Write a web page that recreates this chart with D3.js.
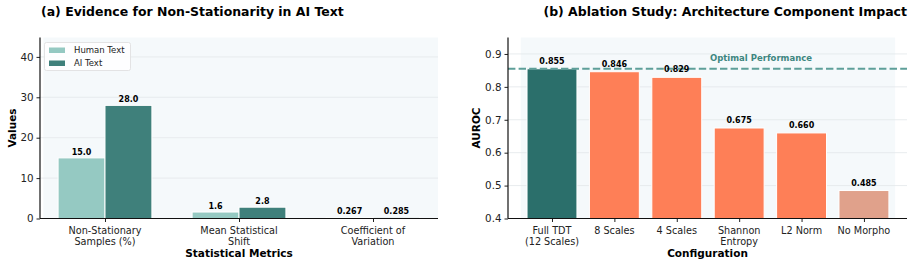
<!DOCTYPE html>
<html><head><meta charset="utf-8">
<script src="https://cdn.jsdelivr.net/npm/d3@7"></script>
<style>
body{margin:0;background:#fff;}
svg{display:block;font-family:"DejaVu Sans",sans-serif;}
</style></head>
<body><svg id="c" width="914" height="266"></svg>
<script>
// ---- data ----
const metrics = [["Non-Stationary","Samples (%)"],["Mean Statistical","Shift"],["Coefficient of","Variation"]];
const humanValues = [15.0, 1.6, 0.267];
const aiValues = [28.0, 2.8, 0.285];
const humanLabels = ["15.0","1.6","0.267"];
const aiLabels = ["28.0","2.8","0.285"];
const leftTicks = [0,10,20,30,40];

const configs = [["Full TDT","(12 Scales)"],["8 Scales"],["4 Scales"],["Shannon","Entropy"],["L2 Norm"],["No Morpho"]];
const auroc = [0.855, 0.846, 0.829, 0.675, 0.660, 0.485];
const aurocLabels = ["0.855","0.846","0.829","0.675","0.660","0.485"];
const rightTicks = [0.4,0.5,0.6,0.7,0.8,0.9];
const optimal = 0.855;

const svg = d3.select("#c");
const C = {human:"#95c9c2", ai:"#3f807b", full:"#2b6f6b", orange:"#fe7f57", morpho:"#e0a18b",
  bg:"#f5f9fb", grid:"#e3e7ea", dash:"#5e9f99", opt:"#3d8680"};

function fitTitle(t, target){
  const len = t.node().getComputedTextLength();
  const fs = parseFloat(t.attr("font-size"));
  if(len>0) t.attr("font-size", fs*target/len);
}

// ===== Left panel =====
(function(){
  const x0=40, x1=438, yb=218.5, yt=37.5;
  const x = d3.scaleLinear().domain([-0.485,2.485]).range([x0,x1]);
  const y = d3.scaleLinear().domain([0,44.8]).range([yb,yt]);
  const g = svg.append("g");
  g.append("rect").attr("x",x(-0.46)).attr("y",yt).attr("width",x1-x(-0.46)).attr("height",yb-yt).attr("fill",C.bg);
  g.selectAll(".grid").data(leftTicks.slice(1)).join("line")
    .attr("x1",x0).attr("x2",x1).attr("y1",d=>y(d)).attr("y2",d=>y(d))
    .attr("stroke",C.grid).attr("stroke-width",0.8);
  const w=0.35;
  g.selectAll(".h").data(humanValues).join("rect")
    .attr("x",(d,i)=>x(i-w))
    .attr("width",x(w)-x(0)).attr("y",d=>y(d)).attr("height",d=>y(0)-y(d))
    .attr("fill",C.human).attr("stroke","#fff").attr("stroke-width",1);
  g.selectAll(".a").data(aiValues).join("rect")
    .attr("x",(d,i)=>x(i))
    .attr("width",x(w)-x(0)).attr("y",d=>y(d)).attr("height",d=>y(0)-y(d))
    .attr("fill",C.ai).attr("stroke","#fff").attr("stroke-width",1);
  g.selectAll(".hl").data(humanValues).join("text")
    .attr("x",(d,i)=>x(i-w/2)).attr("y",d=>y(d)-3).attr("text-anchor","middle")
    .attr("font-size",8).attr("font-weight","bold").text((d,i)=>humanLabels[i]);
  g.selectAll(".al").data(aiValues).join("text")
    .attr("x",(d,i)=>x(i+w/2)).attr("y",d=>y(d)-3).attr("text-anchor","middle")
    .attr("font-size",8).attr("font-weight","bold").text((d,i)=>aiLabels[i]);
  const ya = g.append("g").attr("transform",`translate(${x0},0)`)
    .call(d3.axisLeft(y).tickValues(leftTicks).tickSize(3.5).tickPadding(3));
  ya.select(".domain").remove();
  ya.selectAll("text").attr("font-size",10.3).attr("font-family","DejaVu Sans").attr("fill","#222");
  ya.selectAll("line").attr("stroke","#222");
  const xa = g.append("g").attr("transform",`translate(0,${yb})`)
    .call(d3.axisBottom(x).tickValues(d3.range(metrics.length)).tickSize(3.5).tickFormat(""));
  xa.select(".domain").remove();
  xa.selectAll("line").attr("stroke","#222");
  metrics.forEach((m,i)=>{
    const t=g.append("text").attr("x",x(i)).attr("y",yb+15).attr("text-anchor","middle")
      .attr("font-size",9.7).attr("fill","#222");
    m.forEach((s,j)=>t.append("tspan").attr("x",x(i)).attr("dy",j?11:0).text(s));
  });
  g.append("line").attr("x1",x0).attr("x2",x0).attr("y1",yt).attr("y2",yb).attr("stroke","#111").attr("stroke-width",1.2);
  g.append("line").attr("x1",x0).attr("x2",x1).attr("y1",yb).attr("y2",yb).attr("stroke","#111").attr("stroke-width",1.2);
  g.append("text").attr("x",(x0+x1)/2).attr("y",257).attr("text-anchor","middle")
    .attr("font-size",10.5).attr("font-weight","bold").text("Statistical Metrics");
  g.append("text").attr("transform",`translate(16,${(yt+yb)/2}) rotate(-90)`).attr("text-anchor","middle")
    .attr("font-size",10.5).attr("font-weight","bold").text("Values");
  const tt = g.append("text").attr("x",41).attr("y",15.5).attr("font-size",12).attr("font-weight","bold")
    .text("(a) Evidence for Non-Stationarity in AI Text");
  fitTitle(tt, 303);
  const lg=g.append("g");
  lg.append("rect").attr("x",44.5).attr("y",42.5).attr("width",86).attr("height",28).attr("rx",2)
    .attr("fill","#fff").attr("fill-opacity",0.85).attr("stroke","#ddd").attr("stroke-width",0.8);
  [["Human Text",C.human],["AI Text",C.ai]].forEach((d,i)=>{
    lg.append("rect").attr("x",49).attr("y",47.5+i*13).attr("width",16).attr("height",5.5).attr("fill",d[1]);
    lg.append("text").attr("x",74).attr("y",53+i*13).attr("font-size",8.5).attr("fill","#222").text(d[0]);
  });
})();

// ===== Right panel =====
(function(){
  const x0=508, x1=907, yb=218.5, yt=37.5;
  const x = d3.scaleLinear().domain([-0.705,5.69]).range([x0,x1]);
  const y = d3.scaleLinear().domain([0.4,0.95]).range([yb,yt]);
  const g = svg.append("g");
  g.append("rect").attr("x",x(-0.5)).attr("y",yt).attr("width",x(5.5)-x(-0.5)).attr("height",yb-yt).attr("fill",C.bg);
  g.selectAll(".grid").data(rightTicks.slice(1)).join("line")
    .attr("x1",x0).attr("x2",x1).attr("y1",d=>y(d)).attr("y2",d=>y(d))
    .attr("stroke",C.grid).attr("stroke-width",0.8);
  const w=0.8;
  const col=(i)=> i===0?C.full:(i===auroc.length-1?C.morpho:C.orange);
  g.selectAll(".b").data(auroc).join("rect")
    .attr("x",(d,i)=>x(i-w/2)).attr("width",x(w)-x(0))
    .attr("y",d=>y(d)).attr("height",d=>y(0.4)-y(d))
    .attr("fill",(d,i)=>col(i)).attr("stroke","#fff").attr("stroke-width",1);
  g.append("line").attr("x1",x0).attr("x2",x1).attr("y1",y(optimal)).attr("y2",y(optimal))
    .attr("stroke",C.dash).attr("stroke-width",2).attr("stroke-dasharray","7.4,3.2");
  g.append("text").attr("x",761).attr("y",y(optimal)-8).attr("text-anchor","middle")
    .attr("font-size",8.5).attr("font-weight","bold").attr("fill",C.opt).text("Optimal Performance");
  g.selectAll(".bl").data(auroc).join("text")
    .attr("x",(d,i)=>x(i)).attr("y",d=>y(d)-5).attr("text-anchor","middle")
    .attr("font-size",8).attr("font-weight","bold").text((d,i)=>aurocLabels[i]);
  const ya = g.append("g").attr("transform",`translate(${x0},0)`)
    .call(d3.axisLeft(y).tickValues(rightTicks).tickFormat(d3.format(".1f")).tickSize(3.5).tickPadding(3));
  ya.select(".domain").remove();
  ya.selectAll("text").attr("font-size",10.3).attr("font-family","DejaVu Sans").attr("fill","#222");
  ya.selectAll("line").attr("stroke","#222");
  const xa = g.append("g").attr("transform",`translate(0,${yb})`)
    .call(d3.axisBottom(x).tickValues(d3.range(configs.length)).tickSize(3.5).tickFormat(""));
  xa.select(".domain").remove();
  xa.selectAll("line").attr("stroke","#222");
  configs.forEach((m,i)=>{
    const t=g.append("text").attr("x",x(i)).attr("y",yb+15).attr("text-anchor","middle")
      .attr("font-size",9.7).attr("fill","#222");
    m.forEach((s,j)=>t.append("tspan").attr("x",x(i)).attr("dy",j?11:0).text(s));
  });
  g.append("line").attr("x1",x0).attr("x2",x0).attr("y1",yt).attr("y2",yb).attr("stroke","#111").attr("stroke-width",1.2);
  g.append("line").attr("x1",x0).attr("x2",x1).attr("y1",yb).attr("y2",yb).attr("stroke","#111").attr("stroke-width",1.2);
  g.append("text").attr("x",(x0+x1)/2).attr("y",257).attr("text-anchor","middle")
    .attr("font-size",10.5).attr("font-weight","bold").text("Configuration");
  g.append("text").attr("transform",`translate(480,${(yt+yb)/2}) rotate(-90)`).attr("text-anchor","middle")
    .attr("font-size",10.5).attr("font-weight","bold").text("AUROC");
  const tt = g.append("text").attr("x",907).attr("y",15.5).attr("text-anchor","end").attr("font-size",12).attr("font-weight","bold")
    .text("(b) Ablation Study: Architecture Component Impact");
  fitTitle(tt, 364);
})();
</script></body></html>
